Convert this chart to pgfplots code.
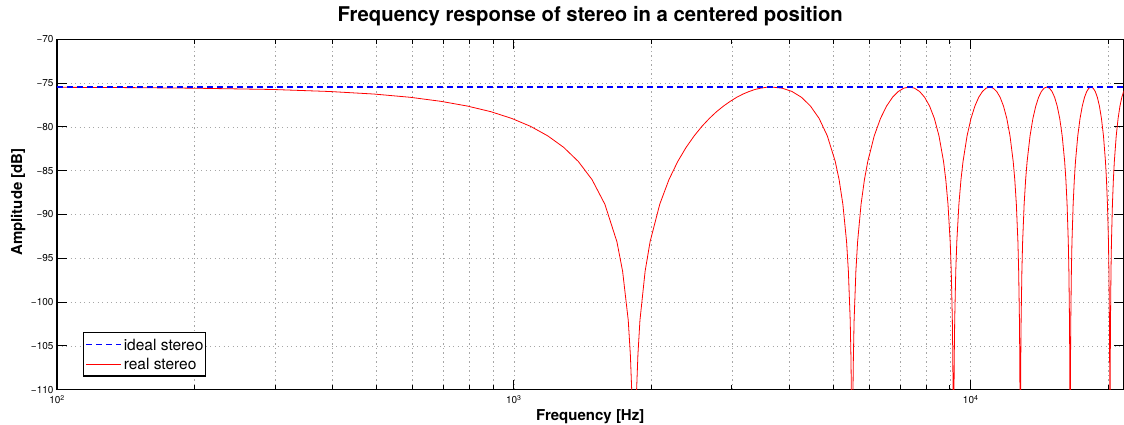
\documentclass[border=0pt]{standalone}
\usepackage{pgfplots}
\pgfplotsset{compat=1.18}
\usepackage{fontspec}
\setmainfont{TeX Gyre Heros}
\definecolor{mblue}{rgb}{0,0,1}
\definecolor{mred}{rgb}{1,0,0}
\pgfplotstableread{
f y
100 -75.48
148 -75.52
198 -75.58
297 -75.73
395 -75.96
494 -76.25
593 -76.62
692 -77.08
791 -77.62
890 -78.26
989 -79.03
1088 -79.94
1186 -81.02
1285 -82.33
1384 -83.95
1483 -86.02
1582 -88.83
1681 -93.11
1730 -96.48
1780 -102.09
1799 -106.01
1814 -110.87
1834 -150
1854 -110.87
1869 -106.01
1888 -102.09
1938 -96.48
1987 -93.11
2086 -88.83
2185 -86.02
2284 -83.95
2383 -82.33
2482 -81.02
2580 -79.94
2679 -79.03
2778 -78.26
2877 -77.62
2976 -77.08
3075 -76.62
3174 -76.25
3273 -75.96
3371 -75.73
3470 -75.58
3569 -75.48
3668 -75.45
3866 -75.58
4063 -75.96
4261 -76.62
4459 -77.62
4657 -79.03
4854 -81.02
5052 -83.95
5151 -86.02
5250 -88.83
5349 -93.11
5398 -96.48
5448 -102.09
5467 -106.01
5482 -110.87
5502 -150
5522 -110.87
5537 -106.01
5556 -102.09
5606 -96.48
5655 -93.11
5754 -88.83
5853 -86.02
5952 -83.95
6150 -81.02
6347 -79.03
6545 -77.62
6743 -76.62
6941 -75.96
7138 -75.58
7336 -75.45
7534 -75.58
7731 -75.96
7929 -76.62
8127 -77.62
8325 -79.03
8522 -81.02
8720 -83.95
8819 -86.02
8918 -88.83
9017 -93.11
9066 -96.48
9116 -102.09
9135 -106.01
9150 -110.87
9170 -150
9190 -110.87
9205 -106.01
9224 -102.09
9274 -96.48
9323 -93.11
9422 -88.83
9521 -86.02
9620 -83.95
9818 -81.02
10015 -79.03
10213 -77.62
10411 -76.62
10609 -75.96
10806 -75.58
11004 -75.45
11202 -75.58
11399 -75.96
11597 -76.62
11795 -77.62
11993 -79.03
12190 -81.02
12388 -83.95
12487 -86.02
12586 -88.83
12685 -93.11
12734 -96.48
12784 -102.09
12803 -106.01
12818 -110.87
12838 -150
12858 -110.87
12873 -106.01
12892 -102.09
12942 -96.48
12991 -93.11
13090 -88.83
13189 -86.02
13288 -83.95
13486 -81.02
13683 -79.03
13881 -77.62
14079 -76.62
14277 -75.96
14474 -75.58
14672 -75.45
14870 -75.58
15067 -75.96
15265 -76.62
15463 -77.62
15661 -79.03
15858 -81.02
16056 -83.95
16155 -86.02
16254 -88.83
16353 -93.11
16402 -96.48
16452 -102.09
16471 -106.01
16486 -110.87
16506 -150
16526 -110.87
16541 -106.01
16560 -102.09
16610 -96.48
16659 -93.11
16758 -88.83
16857 -86.02
16956 -83.95
17154 -81.02
17351 -79.03
17549 -77.62
17747 -76.62
17945 -75.96
18142 -75.58
18340 -75.45
18538 -75.58
18735 -75.96
18933 -76.62
19131 -77.62
19329 -79.03
19526 -81.02
19724 -83.95
19823 -86.02
19922 -88.83
20021 -93.11
20070 -96.48
20120 -102.09
20139 -106.01
20154 -110.87
20174 -150
20194 -110.87
20209 -106.01
20228 -102.09
20278 -96.48
20327 -93.11
20426 -88.83
20525 -86.02
20624 -83.95
20822 -81.02
21019 -79.03
21217 -77.62
21415 -76.62
21613 -75.96
21810 -75.58
22008 -75.45
}\realdata
\begin{document}
\begin{tikzpicture}
\begin{axis}[
  xmode=log,
  scale only axis,
  width=1066.5pt, height=350.4pt,
  xmin=100, xmax=21600,
  ymin=-110, ymax=-70,
  xtick={100,1000,10000},
  xticklabels={10\textsuperscript{2},10\textsuperscript{3},10\textsuperscript{4}},
  minor xtick={200,300,400,500,600,700,800,900,2000,3000,4000,5000,6000,7000,8000,9000,20000},
  ytick={-110,-105,-100,-95,-90,-85,-80,-75,-70},
  yticklabels={−110,−105,−100,−95,−90,−85,−80,−75,−70},
  tick align=inside,
  major tick length=10pt,
  minor tick length=5pt,
  tick style={black, line width=0.8pt},
  axis line style={black, line width=1.3pt},
  xmajorgrids, xminorgrids, ymajorgrids,
  major grid style={gray!70, line width=0.6pt, dash pattern=on 1.2pt off 3.3pt},
  minor grid style={gray!70, line width=0.6pt, dash pattern=on 1.2pt off 3.3pt},
  ticklabel style={font=\fontsize{10}{12}\selectfont},
  xticklabel style={yshift=-2pt},
  title={Frequency response of stereo in a centered position},
  title style={font=\fontsize{20.3}{24}\selectfont\bfseries, at={(rel axis cs:0.5,1)}, anchor=base, yshift=12pt},
  xlabel={Frequency [Hz]},
  xlabel style={font=\fontsize{15}{18}\selectfont\bfseries, at={(rel axis cs:0.5,0)}, anchor=base, yshift=-31pt},
  ylabel={Amplitude [dB]},
  ylabel style={font=\fontsize{15}{18}\selectfont\bfseries, at={(rel axis cs:-0.0328,0.5357)}, anchor=base},
  legend style={at={(rel axis cs:0.0241,0.0371)}, anchor=south west, draw=black, line width=1.2pt,
    font=\fontsize{15.5}{18}\selectfont, inner xsep=2.3pt, inner ysep=3pt, row sep=1.2pt, column sep=2.3pt,
    nodes={inner sep=0pt, text height=14.4pt, text depth=3.7pt},
    cells={anchor=west}},
  legend image code/.code={\draw[#1, line width=0.9pt] (0pt,0pt) -- (35pt,0pt);},
]
\addlegendimage{draw=mblue, dash pattern=on 6pt off 4pt}
\addlegendentry{ideal stereo\hspace{6.4pt}}
\addlegendimage{draw=mred}
\addlegendentry{real stereo}
\addplot[draw=mred, line width=0.8pt, forget plot] table[x=f, y=y] {\realdata};
\addplot[draw=mblue, line width=1.3pt, dash pattern=on 6pt off 4pt, forget plot] coordinates {(100,-75.45) (21600,-75.45)};
\end{axis}
\pgfresetboundingbox
\useasboundingbox ([xshift=-57pt,yshift=-35.3pt]current axis.south west) rectangle ([xshift=0.5pt,yshift=39.3pt]current axis.north east);
\end{tikzpicture}
\end{document}
